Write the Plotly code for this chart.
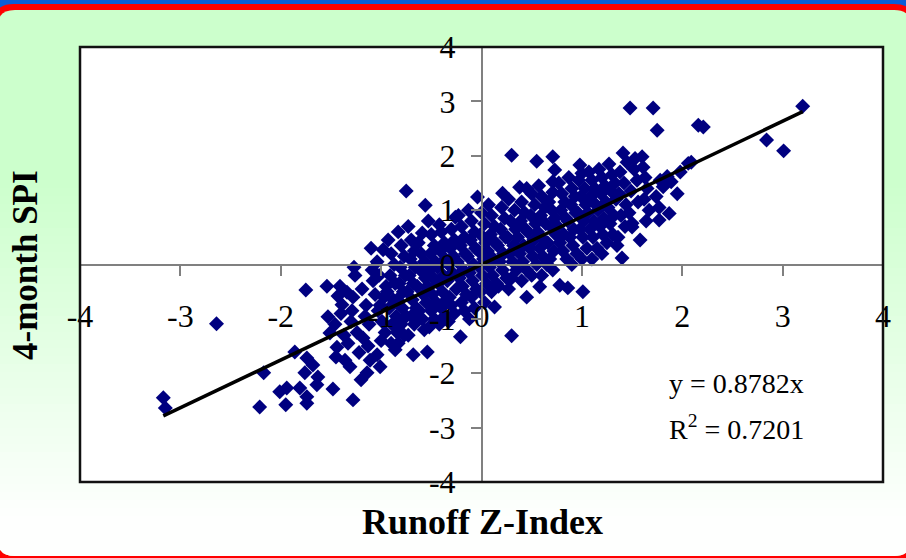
import plotly.graph_objects as go

# ---------------- data ----------------
runoff_z = [
    -3.17, -3.15, -2.64, -2.17, -2.21, -2.01, -1.95, -1.94, -1.86, -1.81, -1.76, -1.75, -1.74, -1.74, -1.74, -1.68, -1.64, -1.63, -1.54, -1.53, -1.51,
    -1.48, -1.44, -1.41, -1.46, -1.39, -1.43, -1.37, -1.45, -1.36, -1.40,
    -1.34, -1.31, -1.28, -1.28, -1.30, -1.26, -1.33, -1.24, -1.29, -1.22, -1.27,
    -1.19, -1.15, -1.12, -1.18, -1.10, -1.14, -1.08, -1.16, -1.11, -1.06, -1.13, -1.20, -1.09,
    -1.04, -1.01, -0.98, -1.02, -0.97, -1.03, -0.99, -0.96, -1.00, -1.04, -0.95, -1.01,
    -0.93, -0.90, -0.87, -0.91, -0.86, -0.94, -0.88, -0.92, -0.85, -0.89, -0.84, -0.90, -0.86,
    -0.83, -0.80, -0.77, -0.81, -0.76, -0.82, -0.78, -0.84, -0.79, -0.75, -0.80, -0.77, -0.83, -0.75,
    -0.73, -0.70, -0.67, -0.71, -0.66, -0.72, -0.68, -0.74, -0.69, -0.65, -0.70, -0.67, -0.73, -0.68,
    -0.56, -0.59, -0.63, -0.60, -0.57, -0.61, -0.56, -0.64, -0.58, -0.55, -0.62, -0.59, -0.57, -0.54,
    -0.53, -0.50, -0.47, -0.51, -0.46, -0.52, -0.48, -0.54, -0.49, -0.45, -0.50, -0.47, -0.52,
    -0.42, -0.40, -0.37, -0.41, -0.36, -0.44, -0.38, -0.43, -0.39, -0.35, -0.40, -0.37, -0.42,
    -0.26, -0.30, -0.27, -0.31, -0.28, -0.33, -0.29, -0.34, -0.25, -0.32, -0.30, -0.27, -0.33,
    -0.23, -0.20, -0.17, -0.21, -0.16, -0.24, -0.18, -0.22, -0.19, -0.15, -0.20, -0.17, -0.21,
    -0.13, -0.10, -0.07, -0.11, -0.06, -0.14, -0.08, -0.12, -0.09, -0.05, -0.10, -0.07, -0.12,
    -0.04, 0.00, 0.03, -0.01, 0.04, -0.03, 0.02, -0.02, 0.01, 0.05, -0.01, 0.03,
    0.07, 0.10, 0.13, 0.09, 0.14, 0.06, 0.12, 0.08, 0.11, 0.15, 0.10, 0.13,
    0.21, 0.20, 0.23, 0.19, 0.24, 0.16, 0.22, 0.18, 0.21, 0.25, 0.17,
    0.30, 0.27, 0.33, 0.29, 0.34, 0.26, 0.32, 0.28, 0.31, 0.35, 0.30, 0.27, 0.30,
    0.38, 0.45, 0.40, 0.43, 0.39, 0.44, 0.36, 0.42, 0.38, 0.41, 0.45, 0.40, 0.45,
    0.55, 0.50, 0.53, 0.49, 0.54, 0.46, 0.52, 0.48, 0.51, 0.55, 0.50, 0.58,
    0.57, 0.60, 0.63, 0.59, 0.64, 0.56, 0.62, 0.58, 0.61, 0.65, 0.60,
    0.71, 0.73, 0.71, 0.71, 0.67, 0.70, 0.73, 0.69, 0.74, 0.66, 0.72, 0.68, 0.71, 0.78,
    0.77, 0.80, 0.83, 0.79, 0.84, 0.76, 0.82, 0.78, 0.81, 0.85, 0.86,
    0.87, 0.90, 0.93, 0.89, 0.94, 0.86, 0.92, 0.88, 0.91, 0.95, 0.90,
    0.98, 1.00, 0.97, 1.03, 0.99, 1.04, 0.96, 1.02, 0.98, 1.01, 1.05, 1.00, 1.01,
    1.07, 1.10, 1.13, 1.09, 1.14, 1.06, 1.12, 1.08, 1.11, 1.15, 1.10,
    1.17, 1.20, 1.23, 1.19, 1.24, 1.16, 1.22, 1.18, 1.21, 1.25, 1.20,
    1.27, 1.30, 1.33, 1.29, 1.34, 1.26, 1.32, 1.28, 1.31, 1.35,
    1.41, 1.45, 1.38, 1.42, 1.37, 1.44, 1.39, 1.43, 1.36, 1.40,
    1.48, 1.52, 1.55, 1.49, 1.56, 1.47, 1.50, 1.50, 1.58, 1.53,
    1.60, 1.61, 1.63, 1.65, 1.62, 1.67, 1.64, 1.71, 1.75, 1.81, 1.78, 1.74, 1.87, 1.77, 1.77, 1.89, 1.98, 1.95, 1.85,
    2.06, 2.09, 2.16, 2.21, 2.84, 3.01, 3.20,
]
spi_4month = [
    -2.45, -2.64, -1.09, -1.99, -2.62, -2.34, -2.58, -2.27, -1.61, -2.27, -1.99, -0.47, -1.72, -2.43, -2.55, -1.85, -2.21, -2.07, -0.40, -0.96, -1.26,
    -2.29, -1.52, -0.40, -1.10, -0.74, -0.58, -1.30, -1.70, -1.76, -0.90,
    -0.51, -1.88, -0.60, -2.49, -1.05, -0.20, -1.45, -1.25, -0.85, -1.62, -0.05,
    -0.45, -0.75, -1.10, -1.35, 0.30, -1.99, -0.30, -0.95, -1.76, -0.55, -1.50, -2.12, -0.10,
    -1.66, -1.88, 0.27, -0.20, -0.60, -0.85, -1.05, -1.25, -1.40, 0.05, -0.40, -0.75,
    0.45, 0.20, 0.00, -0.20, -0.35, -0.50, -0.65, -0.80, -0.95, -1.10, -1.25, -1.45, -1.57,
    0.60, 0.35, 0.15, -0.05, -0.20, -0.35, -0.50, -0.65, -0.80, -0.95, -1.10, -1.30, -1.45, 1.35,
    0.70, 0.45, 0.25, 0.10, -0.05, -0.20, -0.35, -0.50, -0.65, -0.80, -0.95, -1.10, -1.30, -1.66,
    1.09, 0.58, 0.40, 0.20, 0.05, -0.10, -0.25, -0.40, -0.55, -0.70, -0.85, -1.00, -1.20, -1.61,
    0.80, 0.55, 0.35, 0.20, 0.05, -0.10, -0.25, -0.40, -0.55, -0.70, -0.85, -1.00, -1.15,
    0.73, 0.60, 0.40, 0.25, 0.10, -0.05, -0.20, -0.35, -0.50, -0.65, -0.80, -0.95, -1.10,
    0.87, 0.65, 0.45, 0.30, 0.15, 0.00, -0.15, -0.30, -0.45, -0.60, -0.75, -0.90, -1.05,
    0.90, 0.70, 0.50, 0.35, 0.20, 0.05, -0.10, -0.25, -0.40, -0.55, -0.70, -0.85, -1.33,
    1.00, 0.80, 0.60, 0.45, 0.30, 0.15, 0.00, -0.15, -0.30, -0.45, -0.60, -0.80, -1.00,
    1.24, 0.95, 0.75, 0.55, 0.40, 0.25, 0.10, -0.05, -0.20, -0.35, -0.50, -0.70,
    1.10, 0.90, 0.70, 0.55, 0.40, 0.25, 0.10, -0.05, -0.20, -0.35, -0.50, -0.78,
    1.31, 1.05, 0.85, 0.65, 0.50, 0.35, 0.20, 0.05, -0.10, -0.25, -0.40,
    2.01, 1.20, 1.00, 0.80, 0.65, 0.50, 0.35, 0.20, 0.05, -0.10, -0.25, -0.45, -1.31,
    1.42, 1.40, 1.15, 0.95, 0.80, 0.65, 0.50, 0.35, 0.20, 0.05, -0.10, -0.30, -0.60,
    1.90, 1.30, 1.10, 0.90, 0.75, 0.60, 0.45, 0.30, 0.15, 0.00, -0.20, -0.41,
    1.45, 1.25, 1.05, 0.90, 0.75, 0.60, 0.45, 0.30, 0.15, 0.00, -0.20,
    1.98, 1.74, 1.52, 1.33, 1.15, 1.00, 0.85, 0.70, 0.55, 0.40, 0.25, 0.10, -0.10, -0.38,
    1.50, 1.30, 1.15, 1.00, 0.85, 0.70, 0.55, 0.40, 0.25, 0.10, -0.43,
    1.60, 1.40, 1.25, 1.10, 0.95, 0.80, 0.65, 0.50, 0.35, 0.20, 0.00,
    1.83, 1.68, 1.55, 1.40, 1.25, 1.10, 0.95, 0.80, 0.65, 0.50, 0.30, 0.10, -0.50,
    1.70, 1.55, 1.40, 1.25, 1.10, 0.95, 0.80, 0.65, 0.50, 0.30, 0.10,
    1.75, 1.60, 1.45, 1.30, 1.15, 1.00, 0.85, 0.70, 0.55, 0.40, 0.20,
    1.85, 1.65, 1.50, 1.35, 1.20, 1.05, 0.90, 0.75, 0.55, 0.35,
    2.05, 1.88, 1.70, 1.50, 1.30, 1.10, 0.90, 0.70, 0.50, 0.12,
    2.88, 1.75, 1.55, 1.35, 1.15, 0.95, 0.76, 0.69, 0.45, 1.95,
    1.98, 1.79, 1.60, 1.40, 1.20, 1.00, 0.80, 2.88, 2.47, 1.43, 1.55, 1.25, 0.94, 0.82, 1.05, 1.52, 1.70, 1.30, 1.62,
    1.86, 1.88, 2.56, 2.53, 2.29, 2.09, 2.91,
]
trend_slope = 0.8782
r_squared = 0.7201
tick_values = [-4, -3, -2, -1, 0, 1, 2, 3, 4]
tick_labels = ["-4", "-3", "-2", "-1", "0", "1", "2", "3", "4"]

# ---------------- geometry helpers ----------------
W, H = 906, 558


def fx(p):
    return p / W


def fy(p):
    return 1 - p / H


def rounded_path(x0, y0, x1, y1, r):
    pts = [
        ("M", [(x0 + r, y0)]), ("L", [(x1 - r, y0)]), ("Q", [(x1, y0), (x1, y0 + r)]),
        ("L", [(x1, y1 - r)]), ("Q", [(x1, y1), (x1 - r, y1)]),
        ("L", [(x0 + r, y1)]), ("Q", [(x0, y1), (x0, y1 - r)]),
        ("L", [(x0, y0 + r)]), ("Q", [(x0, y0), (x0 + r, y0)]),
    ]
    s = ""
    for cmd, ps in pts:
        s += cmd + " " + " ".join(f"{fx(a):.5f},{fy(b):.5f}" for a, b in ps) + " "
    return s + "Z"


def green_at(py):
    t = min(max((py - 180) / (520 - 180), 0), 1)
    g = int(round(204 + 50 * t))
    return f"rgb({g},255,{g})"


# plot area in pixels
PL, PR, PT, PB = 80, 883, 47, 482
x_zero_py = 265
y_zero_px = 481.7

shapes = []
shapes.append(dict(type="path", xref="paper", yref="paper", layer="below",
                   path=rounded_path(-8, 4, 916, 566, 22), fillcolor="#ff0000", line=dict(width=0)))
shapes.append(dict(type="path", xref="paper", yref="paper", layer="below",
                   path=rounded_path(-3, 10, 912, 556, 18), fillcolor=green_at(0), line=dict(width=0)))
shapes.append(dict(type="path", xref="paper", yref="paper", layer="below",
                   path=rounded_path(-3, 300, 912, 556, 18), fillcolor=green_at(556), line=dict(width=0)))
for yb in range(28, 540, 8):
    shapes.append(dict(type="rect", xref="paper", yref="paper", layer="below",
                       x0=fx(-2), x1=fx(W + 2), y0=fy(yb), y1=fy(yb + 8.5),
                       fillcolor=green_at(yb + 4), line=dict(width=0)))
shapes.append(dict(type="rect", xref="paper", yref="paper", layer="below",
                   x0=fx(PL), x1=fx(PR), y0=fy(PB), y1=fy(PT),
                   fillcolor="white", line=dict(width=0)))
shapes.append(dict(type="rect", xref="paper", yref="paper", layer="above",
                   x0=fx(PL), x1=fx(PR), y0=fy(PB), y1=fy(PT),
                   line=dict(color="#111111", width=2.5)))

fig = go.Figure()
fig.add_trace(go.Scatter(
    x=runoff_z, y=spi_4month, mode="markers",
    marker=dict(symbol="diamond", size=11.5, color="#000080", line=dict(width=0)),
    showlegend=False, hoverinfo="x+y"))
x_lo, x_hi = min(runoff_z), max(runoff_z)
fig.add_trace(go.Scatter(
    x=[x_lo, x_hi], y=[trend_slope * x_lo, trend_slope * x_hi], mode="lines",
    line=dict(color="black", width=3.5), showlegend=False, hoverinfo="skip"))

serif = "Liberation Serif, Times New Roman, serif"
axis_common = dict(range=[-4, 4], tickvals=tick_values, ticktext=tick_labels,
                   showgrid=False, zeroline=False, showline=True, linecolor="#808080",
                   linewidth=1.5, ticks="outside", ticklen=10, tickwidth=1.5,
                   tickcolor="#808080", anchor="free", automargin=False,
                   tickfont=dict(family=serif, size=32, color="black"))

fig.update_layout(
    width=W, height=H, margin=dict(l=0, r=0, t=0, b=0, pad=0, autoexpand=False),
    showlegend=False,
    paper_bgcolor="#0b5ed7", plot_bgcolor="rgba(0,0,0,0)",
    xaxis=dict(domain=[fx(PL), fx(PR)], position=fy(x_zero_py), ticklabelstandoff=13, **axis_common),
    yaxis=dict(domain=[fy(PB), fy(PT)], position=fx(y_zero_px), ticklabelstandoff=9, **axis_common),
    shapes=shapes,
    annotations=[
        dict(text=f"y = {trend_slope}x", xref="paper", yref="paper", x=fx(667), y=fy(383),
             xanchor="left", yanchor="middle", showarrow=False,
             font=dict(family=serif, size=28, color="black")),
        dict(text=f"R<sup>2</sup> = {r_squared}", xref="paper", yref="paper", x=fx(667), y=fy(427),
             xanchor="left", yanchor="middle", showarrow=False,
             font=dict(family=serif, size=28, color="black")),
        dict(text="<b>Runoff Z-Index</b>", xref="paper", yref="paper", x=fx(483), y=fy(522),
             xanchor="center", yanchor="middle", showarrow=False,
             font=dict(family=serif, size=36, color="black")),
        dict(text="<b>4-month SPI</b>", xref="paper", yref="paper", x=fx(25), y=fy(265),
             xanchor="center", yanchor="middle", showarrow=False, textangle=-90,
             font=dict(family=serif, size=35, color="black")),
    ],
)

fig.write_html("out.html")
